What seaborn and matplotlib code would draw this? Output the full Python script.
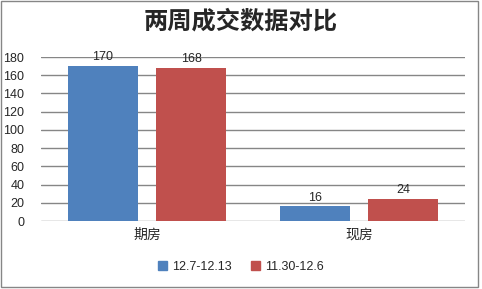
import matplotlib
matplotlib.use("Agg")
import matplotlib.pyplot as plt
import seaborn as sns
import pandas as pd
from matplotlib.patches import Rectangle

categories = ["期房", "现房"]
series_names = ["12.7-12.13", "11.30-12.6"]
values_week1 = [170, 16]
values_week2 = [168, 24]
yticks = [0, 20, 40, 60, 80, 100, 120, 140, 160, 180]

df = pd.DataFrame({
    "cat": categories * 2,
    "series": [series_names[0]] * 2 + [series_names[1]] * 2,
    "val": values_week1 + values_week2,
})

sns.set_style("white")
plt.rcParams['font.family'] = ['Liberation Sans', 'Noto Sans CJK SC', 'DejaVu Sans']

fig = plt.figure(figsize=(4.82, 2.89), dpi=100)
ax = fig.add_axes([41/482, 1-221/289, 424/482, (221-57)/289])

colors = ["#4F81BD", "#C0504D"]
sns.barplot(data=df, x="cat", y="val", hue="series", palette=colors,
            width=0.835, gap=0.21, ax=ax, legend=False, saturation=1,
            linewidth=0, edgecolor="none")

ax.set_xlim(-0.5, 1.5)
ax.set_ylim(0, 180)
ax.set_yticks(yticks)
ax.set_yticklabels([str(t) for t in yticks], fontsize=9)
ax.yaxis.grid(True, color="#868686", linewidth=1)
ax.set_axisbelow(True)
for s in ax.spines.values():
    s.set_visible(False)
ax.tick_params(axis="y", length=0, pad=12)
ax.tick_params(axis="x", length=0, pad=5)
ax.set_xticks([0, 1])
ax.set_xticklabels(categories, fontsize=10, family=['Noto Sans CJK SC', 'DejaVu Sans'])
ax.set_xlabel("")
ax.set_ylabel("")

for c in ax.containers:
    ax.bar_label(c, fontsize=9, padding=2)

fig.text(0.5, 1-22/289, "两周成交数据对比", ha="center", va="center", fontsize=17.5,
         fontweight="bold", family=['Noto Sans CJK SC', 'DejaVu Sans'])

handles = [Rectangle((0, 0), 1, 1, color=col) for col in colors]
fig.legend(handles, series_names, loc="center", bbox_to_anchor=(0.5, 1-267/289),
           ncol=2, frameon=False, fontsize=9, handlelength=0.75, handleheight=0.75,
           columnspacing=1.5, handletextpad=0.4)

border = Rectangle((0.002, 0.006), 0.989, 0.99, transform=fig.transFigure,
                   fill=False, edgecolor="#868686", linewidth=1)
fig.patches.append(border)

fig.savefig("out.png", dpi=100)
